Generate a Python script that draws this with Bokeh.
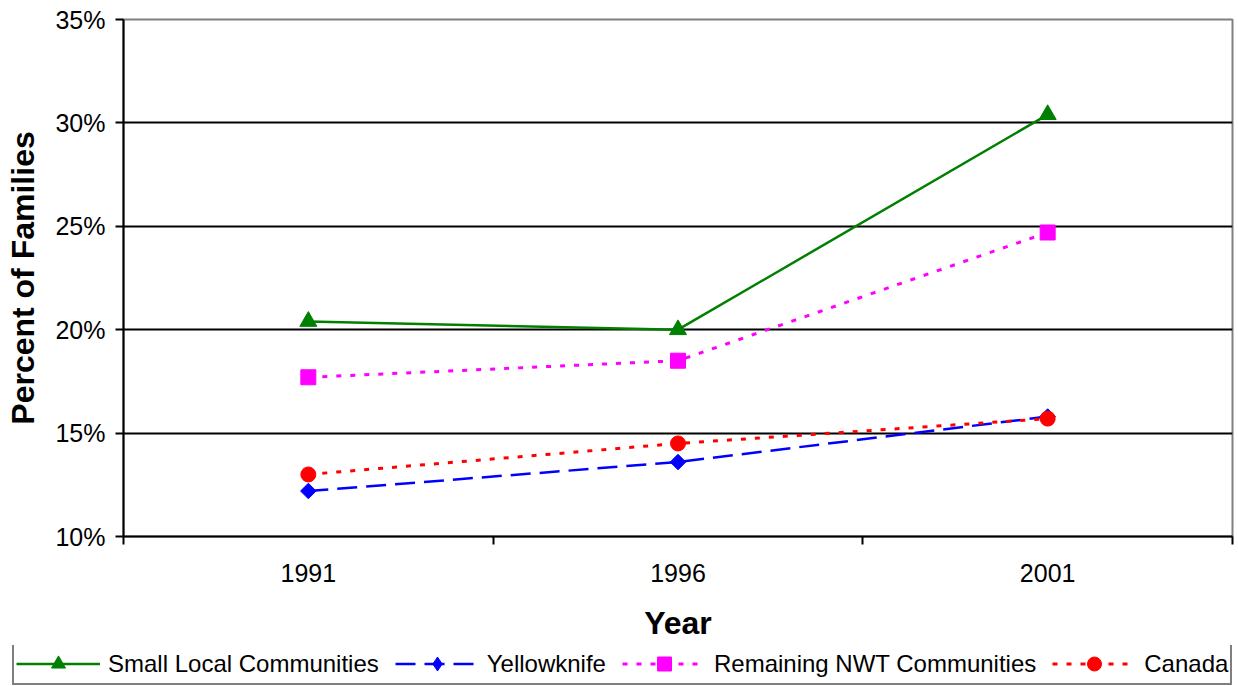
import math
from bokeh.plotting import figure
from bokeh.models import (Range1d, FixedTicker, PrintfTickFormatter, Legend, LegendItem)
from bokeh.embed import file_html
from bokeh.resources import INLINE

# ---- data ----
years = [1991, 1996, 2001]
small_local = [20.4, 20.0, 30.4]
yellowknife = [12.2, 13.6, 15.8]
remaining_nwt = [17.7, 18.5, 24.7]
canada = [13.0, 14.5, 15.7]
y_ticks = [10, 15, 20, 25, 30, 35]
series_names = ["Small Local Communities", "Yellowknife",
                "Remaining NWT Communities", "Canada"]

FONT = "Liberation Sans"
W = 1238

half = (years[1] - years[0]) / 2.0
p = figure(width=W, height=645, output_backend="svg", toolbar_location=None,
           x_range=Range1d(years[0] - half, years[-1] + half),
           y_range=Range1d(y_ticks[0], y_ticks[-1]),
           min_border_left=123, min_border_top=19, min_border_right=6,
           min_border_bottom=109,
           background_fill_color="white", border_fill_color="white")
p.outline_line_color = "#808080"
p.outline_line_width = 2

# x axis: labels at years, tick marks at category boundaries
bounds = [y - half for y in years] + [years[-1] + half]
xa = p.xaxis[0]
xa.ticker = FixedTicker(ticks=years, minor_ticks=bounds)
xa.major_tick_line_color = None
xa.minor_tick_line_color = "black"
xa.minor_tick_line_width = 2
xa.minor_tick_out = 8
xa.minor_tick_in = 0
xa.axis_line_color = "black"
xa.axis_line_width = 2
xa.major_label_text_font = FONT
xa.major_label_text_font_size = "25px"
xa.major_label_text_color = "black"
xa.major_label_standoff = 19
xa.axis_label = "Year"
xa.axis_label_text_font = FONT
xa.axis_label_text_font_style = "bold"
xa.axis_label_text_font_size = "32px"
xa.axis_label_text_color = "black"
xa.axis_label_standoff = 20

ya = p.yaxis[0]
ya.ticker = FixedTicker(ticks=y_ticks, minor_ticks=[])
ya.formatter = PrintfTickFormatter(format="%d%%")
ya.major_tick_line_color = "black"
ya.major_tick_line_width = 2
ya.major_tick_out = 8
ya.major_tick_in = 0
ya.axis_line_color = "black"
ya.axis_line_width = 2
ya.major_label_text_font = FONT
ya.major_label_text_font_size = "25px"
ya.major_label_text_color = "black"
ya.major_label_standoff = 10
ya.axis_label = "Percent of Families"
ya.axis_label_text_font = FONT
ya.axis_label_text_font_style = "bold"
ya.axis_label_text_font_size = "32px"
ya.axis_label_text_color = "black"
ya.axis_label_standoff = 11

p.xgrid.grid_line_color = None
p.ygrid.ticker = FixedTicker(ticks=y_ticks[1:-1])
p.ygrid.grid_line_color = "black"
p.ygrid.grid_line_width = 2

styles = [
    dict(color="#008000", width=2.5, dash="solid", marker="triangle", size=17, angle=0.0),
    dict(color="#0000FF", width=2.5, dash="20 9", marker="square", size=11, angle=math.pi / 4),
    dict(color="#FF00FF", width=3, dash="5 9", marker="square", size=15, angle=0.0),
    dict(color="#FF0000", width=3, dash="5 9", marker="circle", size=15, angle=0.0),
]
legend_markers = ["triangle", "diamond", "square", "circle"]
values = [small_local, yellowknife, remaining_nwt, canada]
draw_order = [0, 2, 1, 3]


def add_series(fig, idx, marker=None, angle=None):
    st = styles[idx]
    ln = fig.line(years, values[idx], line_color=st["color"], line_width=st["width"],
                  line_dash=st["dash"])
    mk = fig.scatter(years, values[idx],
                     marker=marker if marker else st["marker"], size=st["size"],
                     angle=st["angle"] if angle is None else angle,
                     fill_color=st["color"], line_color=st["color"])
    return ln, mk


for i in draw_order:
    add_series(p, i)

# ---- legend strip (separate figure below the chart) ----
lf = figure(width=W, height=41, output_backend="svg", toolbar_location=None,
            x_range=Range1d(0, 1), y_range=Range1d(0, 1),
            min_border=0, min_border_left=0, min_border_right=0,
            min_border_top=0, min_border_bottom=0,
            background_fill_color="white", border_fill_color="white")
lf.axis.visible = False
lf.grid.visible = False
lf.outline_line_color = None

items = []
for i in range(4):
    # same data; it lies outside this strip's ranges, only the legend shows
    ln, mk = add_series(lf, i, marker=legend_markers[i], angle=0.0)
    items.append(LegendItem(label=series_names[i], renderers=[ln, mk]))

legend = Legend(items=items, orientation="horizontal", location=(12, 1),
                margin=0, padding=2, spacing=16, label_standoff=8,
                glyph_width=84, glyph_height=35, label_height=35,
                label_text_font=FONT, label_text_font_size="24px",
                label_text_color="black",
                border_line_color="black", border_line_width=2,
                background_fill_color="white", background_fill_alpha=1.0)
lf.add_layout(legend, "center")

open("out.html", "w").write(file_html([p, lf], INLINE))
